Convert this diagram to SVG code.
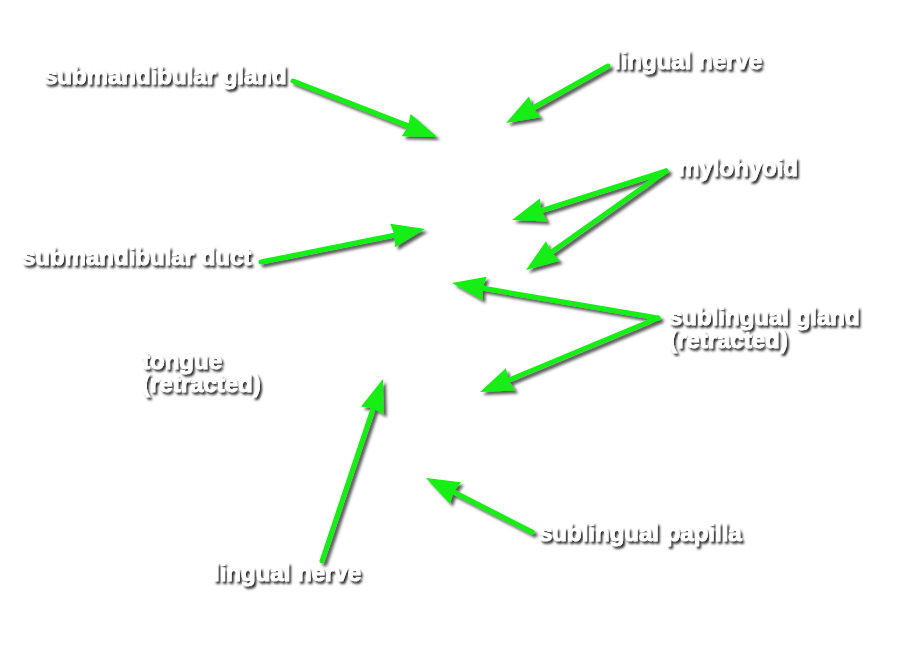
<svg xmlns="http://www.w3.org/2000/svg" width="900" height="651" viewBox="0 0 900 651">
<defs>
<filter id="sh" x="-20%" y="-20%" width="140%" height="140%">
<feDropShadow dx="3" dy="3" stdDeviation="1.6" flood-color="#000" flood-opacity="0.65"/>
</filter>
<filter id="tsh" x="-10%" y="-30%" width="120%" height="160%">
<feDropShadow dx="2" dy="2.5" stdDeviation="1.2" flood-color="#000" flood-opacity="0.85"/>
</filter>
<marker id="ah" markerUnits="userSpaceOnUse" viewBox="-14 -13 36 26" refX="0" refY="0" markerWidth="36" markerHeight="26" orient="auto" overflow="visible">
<path d="M20,0 L-13,-12 L-11,0 L-13,12 Z" fill="#12ee12"/>
</marker>
<style>
.lbl{font-family:"Liberation Sans",Arial,sans-serif;font-weight:bold;font-size:24px;fill:#fff;stroke:#fff;stroke-width:0.7;filter:url(#tsh)}
.ar{stroke:#12ee12;stroke-width:5;fill:none;stroke-linecap:round;marker-end:url(#ah)}
</style>
</defs>
<rect width="900" height="651" fill="#fff"/>
<g id="connectors" filter="url(#sh)">
<line class="ar" x1="293" y1="81" x2="418.4" y2="129.8"/>
<line class="ar" x1="608" y1="66" x2="523.5" y2="113.2"/>
<line class="ar" x1="666" y1="171" x2="531.1" y2="213.9"/>
<line class="ar" x1="666" y1="171" x2="542.3" y2="258.5"/>
<line class="ar" x1="261" y1="262" x2="405.4" y2="232.9"/>
<line class="ar" x1="658" y1="318" x2="471.7" y2="286.3"/>
<line class="ar" x1="658" y1="318" x2="498.5" y2="384.3"/>
<line class="ar" x1="322" y1="561" x2="376.6" y2="398"/>
<line class="ar" x1="532" y1="532" x2="443.8" y2="487.1"/>
</g>
<g id="submandibular-gland"><text class="lbl" x="44" y="84">submandibular gland</text></g>
<g id="lingual-nerve-top"><text class="lbl" x="614" y="69">lingual nerve</text></g>
<g id="mylohyoid"><text class="lbl" x="678" y="176">mylohyoid</text></g>
<g id="submandibular-duct"><text class="lbl" x="22" y="265">submandibular duct</text></g>
<g id="sublingual-gland"><text class="lbl" x="669" y="325">sublingual gland</text><text class="lbl" x="669" y="348">(retracted)</text></g>
<g id="tongue"><text class="lbl" x="142" y="369">tongue</text><text class="lbl" x="142" y="392">(retracted)</text></g>
<g id="lingual-nerve-bottom"><text class="lbl" x="213" y="581">lingual nerve</text></g>
<g id="sublingual-papilla"><text class="lbl" x="539" y="541">sublingual papilla</text></g>
</svg>
